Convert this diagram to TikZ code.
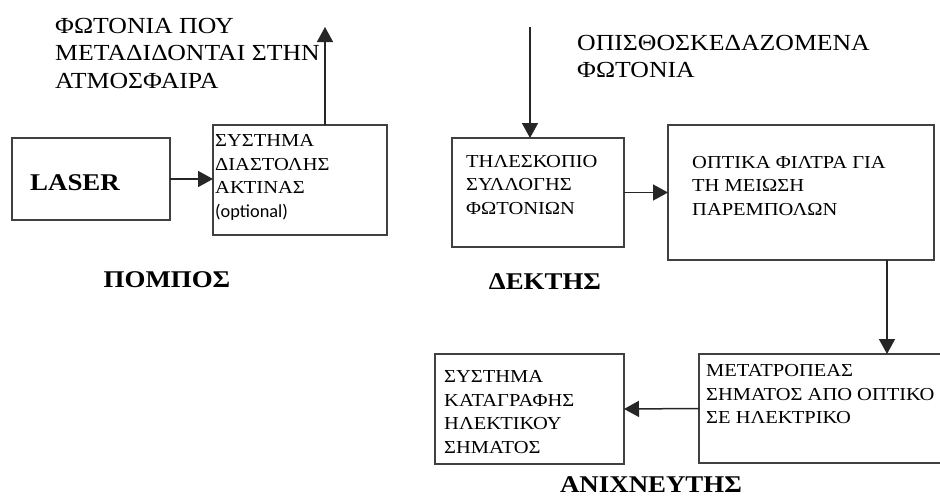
\documentclass[tikz,border=0pt]{standalone}
\usepackage{fontspec}
\setmainfont{Liberation Serif}[FakeStretch=1.12]
\newfontfamily\optfont{Carlito}
\usetikzlibrary{arrows.meta}
\tikzstyle{blockbox}=[draw=black!75, line width=1.8pt, inner sep=0pt, outer sep=0pt]
\tikzstyle{blocktext}=[inner sep=0pt, anchor=west, align=left, font=\fontsize{18.3}{23.5}\selectfont]
\tikzstyle{photontext}=[inner sep=0pt, anchor=west, align=left, font=\fontsize{23}{27.5}\selectfont]
\tikzstyle{stagetitle}=[inner sep=0pt, font=\fontsize{24}{28}\selectfont\bfseries]
\tikzstyle{flow}=[-{Triangle[length=15pt,width=16pt]}, line width=1.5pt, draw=black!85]

\begin{document}
\begin{tikzpicture}[x=1pt,y=-1pt]
  \useasboundingbox (0,0) rectangle (940,498);
  % pompos
  \node[blockbox, minimum width=158, minimum height=82] (laser) at (91,179) {};
  \node[blockbox, minimum width=174, minimum height=110] (expand) at (300,180) {};
  \node[stagetitle, anchor=west] (lasertext) at (30,183) {LASER};
  \node[blocktext] (expandtext) at (215,177.5) {ΣΥΣΤΗΜΑ\\ΔΙΑΣΤΟΛΗΣ\\ΑΚΤΙΝΑΣ\\{\optfont (optional)}};
  \node[stagetitle] (pompos) at (167,280) {ΠΟΜΠΟΣ};
  \node[photontext] (outphotons) at (55,53) {ΦΩΤΟΝΙΑ ΠΟΥ\\ΜΕΤΑΔΙΔΟΝΤΑΙ ΣΤΗΝ\\ΑΤΜΟΣΦΑΙΡΑ};
  \coordinate (sky) at (325,27);
  % dektis
  \node[blockbox, minimum width=172, minimum height=109] (telescope) at (538,192.5) {};
  \node[blockbox, minimum width=266, minimum height=135] (filter) at (801,192.5) {};
  \node[blocktext] (telescopetext) at (466,185) {ΤΗΛΕΣΚΟΠΙΟ\\ΣΥΛΛΟΓΗΣ\\ΦΩΤΟΝΙΩΝ};
  \node[blocktext] (filtertext) at (692,186) {ΟΠΤΙΚΑ ΦΙΛΤΡΑ ΓΙΑ\\ΤΗ ΜΕΙΩΣΗ\\ΠΑΡΕΜΠΟΛΩΝ};
  \node[stagetitle] (dektis) at (545,282) {ΔΕΚΤΗΣ};
  \node[photontext] (backphotons) at (577,56.5) {ΟΠΙΣΘΟΣΚΕΔΑΖΟΜΕΝΑ\\ΦΩΤΟΝΙΑ};
  \coordinate (back) at (530,27);
  % anixneftis
  \node[blockbox, minimum width=261, minimum height=109] (convert) at (829.5,408.5) {};
  \node[blockbox, minimum width=189, minimum height=110] (record) at (529.5,409) {};
  \node[blocktext] (converttext) at (706,394.5) {ΜΕΤΑΤΡΟΠΕΑΣ\\ΣΗΜΑΤΟΣ ΑΠΟ ΟΠΤΙΚΟ\\ΣΕ ΗΛΕΚΤΡΙΚΟ};
  \node[blocktext] (recordtext) at (444,412) {ΣΥΣΤΗΜΑ\\ΚΑΤΑΓΡΑΦΗΣ\\ΗΛΕΚΤΙΚΟΥ\\ΣΗΜΑΤΟΣ};
  \node[stagetitle] (anixneftis) at (651,485) {ΑΝΙΧΝΕΥΤΗΣ};

  \draw[flow] (laser.east) -- (expand.west |- laser.east);
  \draw[flow] (sky |- expand.north) -- (sky); %out
  \draw[flow] (back) -- (back |- telescope.north); %in
  \draw[flow] (telescope.east) -- (filter.west |- telescope.east);
  \draw[flow] ([xshift=86]filter.south) -- ([xshift=57.5]convert.north);
  \draw[flow] (convert.west) -- (record.east);
\end{tikzpicture}
\end{document}
